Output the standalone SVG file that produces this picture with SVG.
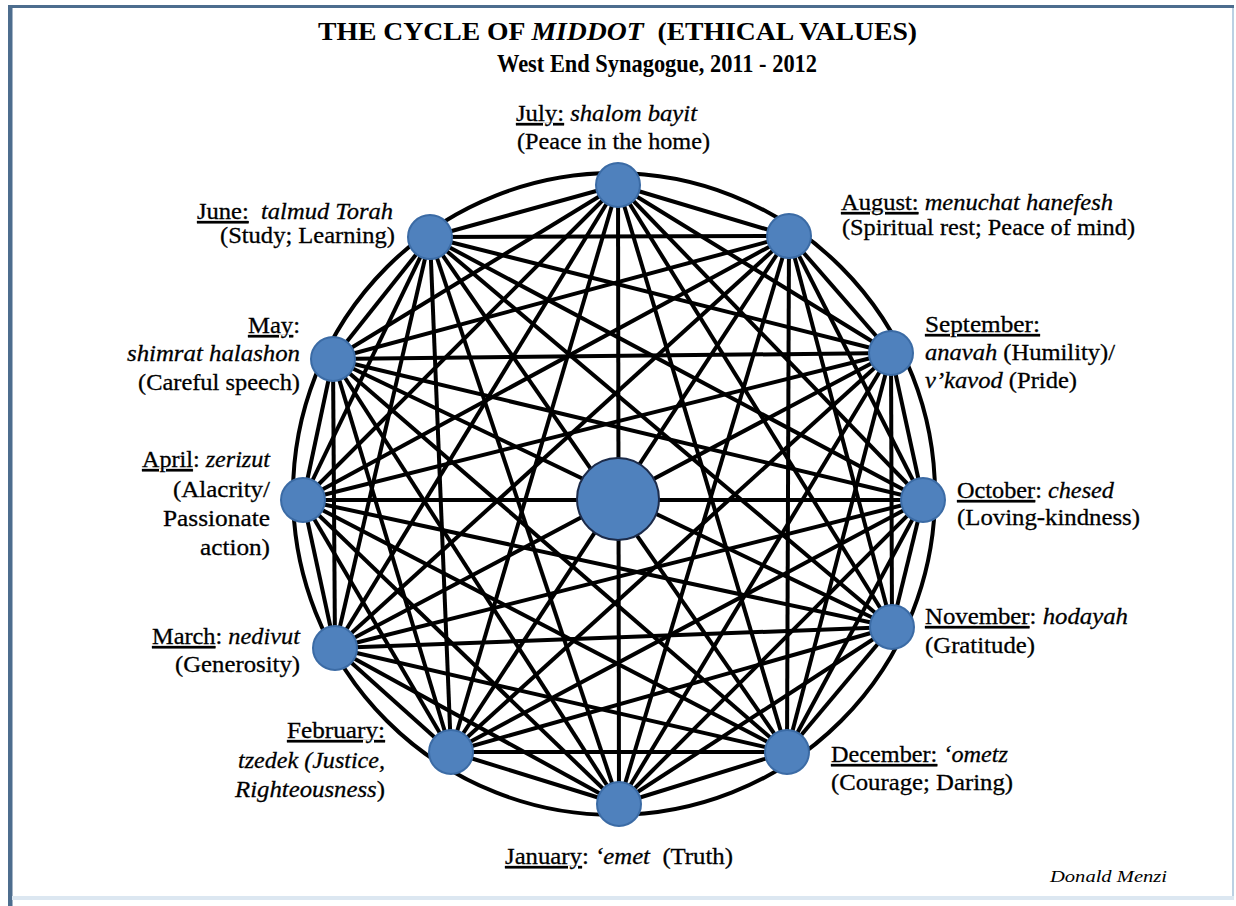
<svg xmlns="http://www.w3.org/2000/svg" width="1236" height="906" viewBox="0 0 1236 906" font-family="'Liberation Serif', 'Times New Roman', 'DejaVu Serif', serif">
<style>
text{fill:#000;white-space:pre}
.t1{font-size:26px;font-weight:bold}
.t2{font-size:25px;font-weight:bold}
.lab{font-family:'Liberation Serif','Times New Roman','DejaVu Serif',serif;font-size:24px;stroke:#000;stroke-width:0.3}
.i{font-style:italic}
.u{text-decoration:underline}
.e{stroke:#000;stroke-width:4;fill:none}
.n{fill:#4F81BD;stroke:#3B6BA5;stroke-width:2}
.c{fill:#4F81BD;stroke:#1C2B4A;stroke-width:2}
</style>
<rect x="0" y="0" width="1236" height="906" fill="#fff"/>
<g id="frame">
<rect x="8" y="5" width="1226" height="3" fill="#4D6D8E"/>
<rect x="8" y="5" width="4.5" height="901" fill="#4D6D8E"/>
<rect x="1232" y="8" width="2" height="892" fill="#BCD0E3"/>
<rect x="12" y="896" width="1222" height="4" fill="#DCE7F1"/>
</g>
<g id="title">
<text class="t1" x="318" y="40" textLength="599" lengthAdjust="spacingAndGlyphs">THE CYCLE OF <tspan class="i">MIDDOT</tspan>  (ETHICAL VALUES)</text>
<text class="t2" x="497" y="72" textLength="320" lengthAdjust="spacingAndGlyphs">West End Synagogue, 2011 - 2012</text>
</g>
<g id="connectors">
<circle class="e" cx="614" cy="494" r="321"/>
<line class="e" x1="618" y1="185" x2="789" y2="236"/>
<line class="e" x1="618" y1="185" x2="891" y2="353"/>
<line class="e" x1="618" y1="185" x2="923" y2="500"/>
<line class="e" x1="618" y1="185" x2="892" y2="627"/>
<line class="e" x1="618" y1="185" x2="787" y2="752"/>
<line class="e" x1="618" y1="185" x2="619" y2="804"/>
<line class="e" x1="618" y1="185" x2="451" y2="752"/>
<line class="e" x1="618" y1="185" x2="335" y2="648"/>
<line class="e" x1="618" y1="185" x2="303" y2="500"/>
<line class="e" x1="618" y1="185" x2="333" y2="359"/>
<line class="e" x1="618" y1="185" x2="430" y2="237"/>
<line class="e" x1="789" y1="236" x2="891" y2="353"/>
<line class="e" x1="789" y1="236" x2="923" y2="500"/>
<line class="e" x1="789" y1="236" x2="892" y2="627"/>
<line class="e" x1="789" y1="236" x2="787" y2="752"/>
<line class="e" x1="789" y1="236" x2="619" y2="804"/>
<line class="e" x1="789" y1="236" x2="451" y2="752"/>
<line class="e" x1="789" y1="236" x2="335" y2="648"/>
<line class="e" x1="789" y1="236" x2="303" y2="500"/>
<line class="e" x1="789" y1="236" x2="333" y2="359"/>
<line class="e" x1="789" y1="236" x2="430" y2="237"/>
<line class="e" x1="891" y1="353" x2="923" y2="500"/>
<line class="e" x1="891" y1="353" x2="892" y2="627"/>
<line class="e" x1="891" y1="353" x2="787" y2="752"/>
<line class="e" x1="891" y1="353" x2="619" y2="804"/>
<line class="e" x1="891" y1="353" x2="451" y2="752"/>
<line class="e" x1="891" y1="353" x2="335" y2="648"/>
<line class="e" x1="891" y1="353" x2="303" y2="500"/>
<line class="e" x1="891" y1="353" x2="333" y2="359"/>
<line class="e" x1="891" y1="353" x2="430" y2="237"/>
<line class="e" x1="923" y1="500" x2="892" y2="627"/>
<line class="e" x1="923" y1="500" x2="787" y2="752"/>
<line class="e" x1="923" y1="500" x2="619" y2="804"/>
<line class="e" x1="923" y1="500" x2="451" y2="752"/>
<line class="e" x1="923" y1="500" x2="335" y2="648"/>
<line class="e" x1="923" y1="500" x2="303" y2="500"/>
<line class="e" x1="923" y1="500" x2="333" y2="359"/>
<line class="e" x1="923" y1="500" x2="430" y2="237"/>
<line class="e" x1="892" y1="627" x2="787" y2="752"/>
<line class="e" x1="892" y1="627" x2="619" y2="804"/>
<line class="e" x1="892" y1="627" x2="451" y2="752"/>
<line class="e" x1="892" y1="627" x2="335" y2="648"/>
<line class="e" x1="892" y1="627" x2="303" y2="500"/>
<line class="e" x1="892" y1="627" x2="333" y2="359"/>
<line class="e" x1="892" y1="627" x2="430" y2="237"/>
<line class="e" x1="787" y1="752" x2="619" y2="804"/>
<line class="e" x1="787" y1="752" x2="451" y2="752"/>
<line class="e" x1="787" y1="752" x2="335" y2="648"/>
<line class="e" x1="787" y1="752" x2="303" y2="500"/>
<line class="e" x1="787" y1="752" x2="333" y2="359"/>
<line class="e" x1="787" y1="752" x2="430" y2="237"/>
<line class="e" x1="619" y1="804" x2="451" y2="752"/>
<line class="e" x1="619" y1="804" x2="335" y2="648"/>
<line class="e" x1="619" y1="804" x2="303" y2="500"/>
<line class="e" x1="619" y1="804" x2="333" y2="359"/>
<line class="e" x1="619" y1="804" x2="430" y2="237"/>
<line class="e" x1="451" y1="752" x2="335" y2="648"/>
<line class="e" x1="451" y1="752" x2="303" y2="500"/>
<line class="e" x1="451" y1="752" x2="333" y2="359"/>
<line class="e" x1="451" y1="752" x2="430" y2="237"/>
<line class="e" x1="335" y1="648" x2="303" y2="500"/>
<line class="e" x1="335" y1="648" x2="333" y2="359"/>
<line class="e" x1="335" y1="648" x2="430" y2="237"/>
<line class="e" x1="303" y1="500" x2="333" y2="359"/>
<line class="e" x1="303" y1="500" x2="430" y2="237"/>
<line class="e" x1="333" y1="359" x2="430" y2="237"/>
</g>
<g id="center"><circle class="c" cx="618" cy="499" r="41"/></g>
<g id="july"><circle class="n" cx="618" cy="185" r="22"/>
<text class="lab" x="516" y="121" textLength="181" lengthAdjust="spacingAndGlyphs"><tspan class="u">July:</tspan> <tspan class="i">shalom bayit</tspan></text>
<text class="lab" x="517" y="149" textLength="193" lengthAdjust="spacingAndGlyphs">(Peace in the home)</text></g>
<g id="august"><circle class="n" cx="789" cy="236" r="22"/>
<text class="lab" x="841" y="210" textLength="272" lengthAdjust="spacingAndGlyphs"><tspan class="u">August:</tspan> <tspan class="i">menuchat hanefesh</tspan></text>
<text class="lab" x="842" y="235" textLength="293" lengthAdjust="spacingAndGlyphs">(Spiritual rest; Peace of mind)</text></g>
<g id="september"><circle class="n" cx="891" cy="353" r="22"/>
<text class="lab" x="925" y="332" textLength="115" lengthAdjust="spacingAndGlyphs"><tspan class="u">September:</tspan></text>
<text class="lab" x="925" y="360" textLength="190" lengthAdjust="spacingAndGlyphs"><tspan class="i">anavah</tspan> (Humility)/</text>
<text class="lab" x="925" y="388" textLength="152" lengthAdjust="spacingAndGlyphs"><tspan class="i">v’kavod</tspan> (Pride)</text></g>
<g id="october"><circle class="n" cx="923" cy="500" r="22"/>
<text class="lab" x="957" y="498" textLength="157" lengthAdjust="spacingAndGlyphs"><tspan class="u">October</tspan>: <tspan class="i">chesed</tspan></text>
<text class="lab" x="957" y="525" textLength="183" lengthAdjust="spacingAndGlyphs">(Loving-kindness)</text></g>
<g id="november"><circle class="n" cx="892" cy="627" r="22"/>
<text class="lab" x="925" y="624" textLength="203" lengthAdjust="spacingAndGlyphs"><tspan class="u">November</tspan>: <tspan class="i">hodayah</tspan></text>
<text class="lab" x="925" y="653" textLength="110" lengthAdjust="spacingAndGlyphs">(Gratitude)</text></g>
<g id="december"><circle class="n" cx="787" cy="752" r="22"/>
<text class="lab" x="831" y="762" textLength="177" lengthAdjust="spacingAndGlyphs"><tspan class="u">December:</tspan> <tspan class="i">‘ometz</tspan></text>
<text class="lab" x="831" y="790" textLength="182" lengthAdjust="spacingAndGlyphs">(Courage; Daring)</text></g>
<g id="january"><circle class="n" cx="619" cy="804" r="22"/>
<text class="lab" x="505" y="864" textLength="228" lengthAdjust="spacingAndGlyphs"><tspan class="u">January</tspan>: <tspan class="i">‘emet</tspan>  (Truth)</text></g>
<g id="february"><circle class="n" cx="451" cy="752" r="22"/>
<text class="lab" x="287" y="738" textLength="98" lengthAdjust="spacingAndGlyphs"><tspan class="u">February:</tspan></text>
<text class="lab i" x="238" y="768" textLength="147" lengthAdjust="spacingAndGlyphs">tzedek (Justice,</text>
<text class="lab" x="235" y="797" textLength="150" lengthAdjust="spacingAndGlyphs"><tspan class="i">Righteousness</tspan>)</text></g>
<g id="march"><circle class="n" cx="335" cy="648" r="22"/>
<text class="lab" x="152" y="644" textLength="148" lengthAdjust="spacingAndGlyphs"><tspan class="u">March</tspan>: <tspan class="i">nedivut</tspan></text>
<text class="lab" x="175" y="672" textLength="125" lengthAdjust="spacingAndGlyphs">(Generosity)</text></g>
<g id="april"><circle class="n" cx="303" cy="500" r="22"/>
<text class="lab" x="142" y="467" textLength="128" lengthAdjust="spacingAndGlyphs"><tspan class="u">April</tspan>: <tspan class="i">zerizut</tspan></text>
<text class="lab" x="173" y="497" textLength="97" lengthAdjust="spacingAndGlyphs">(Alacrity/</text>
<text class="lab" x="163" y="526" textLength="107" lengthAdjust="spacingAndGlyphs">Passionate</text>
<text class="lab" x="200" y="555" textLength="70" lengthAdjust="spacingAndGlyphs">action)</text></g>
<g id="may"><circle class="n" cx="333" cy="359" r="22"/>
<text class="lab" x="248" y="333" textLength="52" lengthAdjust="spacingAndGlyphs"><tspan class="u">May</tspan>:</text>
<text class="lab i" x="127" y="361" textLength="173" lengthAdjust="spacingAndGlyphs">shimrat halashon</text>
<text class="lab" x="138" y="390" textLength="162" lengthAdjust="spacingAndGlyphs">(Careful speech)</text></g>
<g id="june"><circle class="n" cx="430" cy="237" r="22"/>
<text class="lab" x="197" y="219" textLength="196" lengthAdjust="spacingAndGlyphs"><tspan class="u">June:</tspan>  <tspan class="i">talmud Torah</tspan></text>
<text class="lab" x="220" y="243" textLength="175" lengthAdjust="spacingAndGlyphs">(Study; Learning)</text></g>
<g id="signature"><text class="i" x="1050" y="882" font-size="17" textLength="117" lengthAdjust="spacingAndGlyphs">Donald Menzi</text></g>
</svg>
